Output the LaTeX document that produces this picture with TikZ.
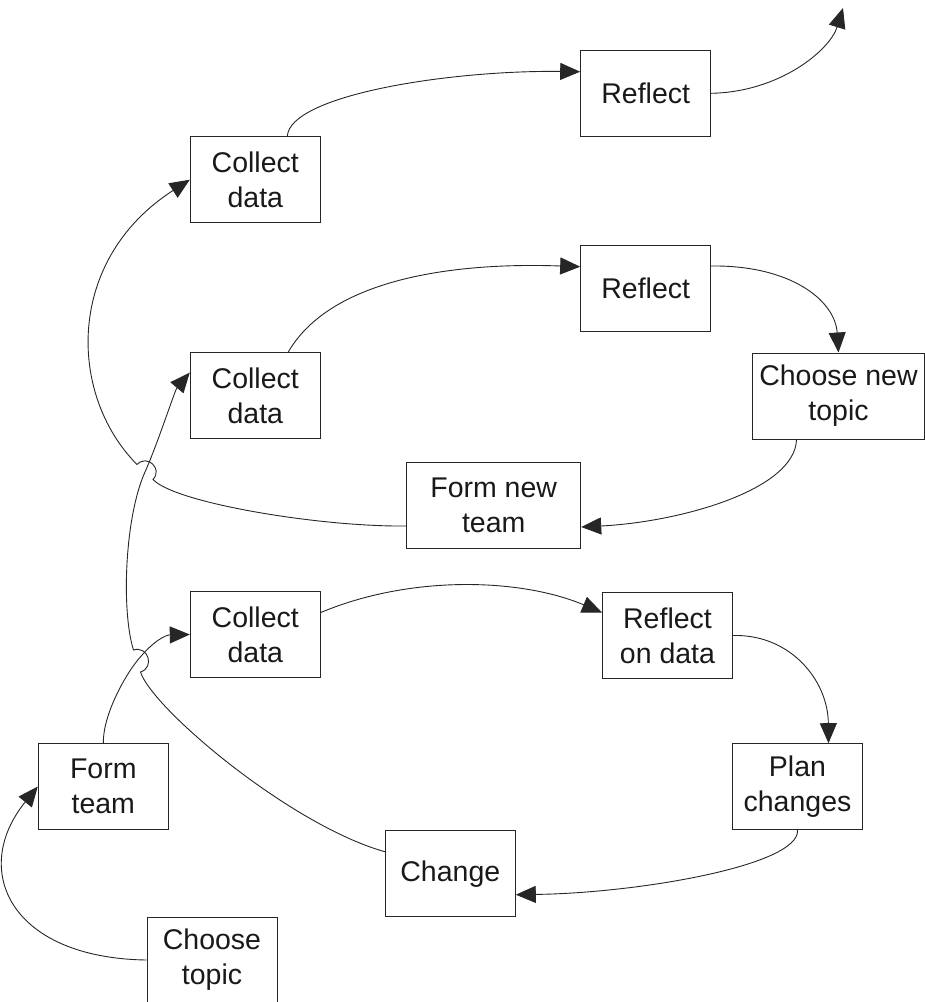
\documentclass[tikz,border=0pt]{standalone}
\usepackage{fontspec}
\setmainfont{Liberation Sans}
\usetikzlibrary{arrows.meta}
\begin{document}
\begin{tikzpicture}[x=1pt,y=-1pt,
  box/.style={draw=black!85, line width=1pt, minimum width=130pt, minimum height=86pt,
    inner sep=0pt, align=center, font=\fontsize{28.5}{35}\selectfont, text=black!90},
  flow/.style={draw=black!85, line width=0.9pt, -{Triangle[length=20pt,width=17pt]}}]
\useasboundingbox (0,0) rectangle (925,1002);

% boxes
\node[box] (r1)  at (645.7,93.3)  {Reflect};
\node[box] (cd1) at (255.3,179.7) {Collect\\data};
\node[box] (r2)  at (645.7,288)   {Reflect};
\node[box] (cd2) at (255.3,395.5) {Collect\\data};
\node[box, minimum width=172pt] (cnt) at (838.5,396) {Choose new\\topic};
\node[box, minimum width=174pt] (fnt) at (493.7,505) {Form new\\team};
\node[box] (cd3) at (255.3,634.5) {Collect\\data};
\node[box] (rod) at (667.5,635.5) {Reflect\\on data};
\node[box] (ft)  at (103.3,786.5) {Form\\team};
\node[box] (pc)  at (797.5,786.7) {Plan\\changes};
\node[box] (ch)  at (450.3,873.7) {Change};
\node[box] (ct)  at (212,960)     {Choose\\topic};
\coordinate (top) at (843,8);

% top cycle
\draw[flow] ([xshift=32pt]cd1.north) .. controls (290,95) and (450,70) .. ([yshift=21.6pt]r1.west);
\draw[flow] (r1.east) .. controls (780,92) and (830,50) .. (top);

% middle cycle
\draw[flow] ([xshift=33pt]cd2.north) .. controls (330,280) and (450,262) .. ([yshift=21.3pt]r2.west);
\draw[flow] ([yshift=22pt]r2.east) .. controls (790,265) and (835,300) .. (cnt.north);
\draw[flow] ([xshift=-42pt]cnt.south) .. controls (795,490) and (680,522) .. ([yshift=-22pt]fnt.east);
\draw[flow] ([yshift=-21pt]fnt.west) .. controls (320,527) and (175,503) .. (153,479.5)
   .. controls (163.1,468.8) and (147.1,453.8) .. (137,464.5)
   .. controls (68,395) and (65,260) .. (cd1.west);

% lower cycle
\draw[flow] ([yshift=22pt]cd3.east) .. controls (410,575) and (520,578) .. ([yshift=23pt]rod.west);
\draw[flow] (rod.east) .. controls (790,634) and (828,680) .. ([xshift=31pt]pc.north);
\draw[flow] (pc.south) .. controls (800,865) and (640,893) .. ([yshift=-21pt]ch.east);
\draw[flow] ([yshift=22pt]ch.west) .. controls (290,825) and (152.1,708.3) .. (140.5,672)
   .. controls (155.1,667.35) and (148.1,645.35) .. (133.5,650)
   .. controls (121.3,611.8) and (124.5,517.6) .. (145,472)
   .. controls (157.3,444.6) and (175,390) .. ([yshift=23pt]cd2.west);

% start
\draw[flow] (ft.north) .. controls (103,715) and (124.5,676.6) .. (137,661)
   .. controls (152.7,641.5) and (165,635) .. (cd3.west);
\draw[flow] (ct.west) .. controls (10,958) and (-30,870) .. (ft.west);
\end{tikzpicture}
\end{document}
